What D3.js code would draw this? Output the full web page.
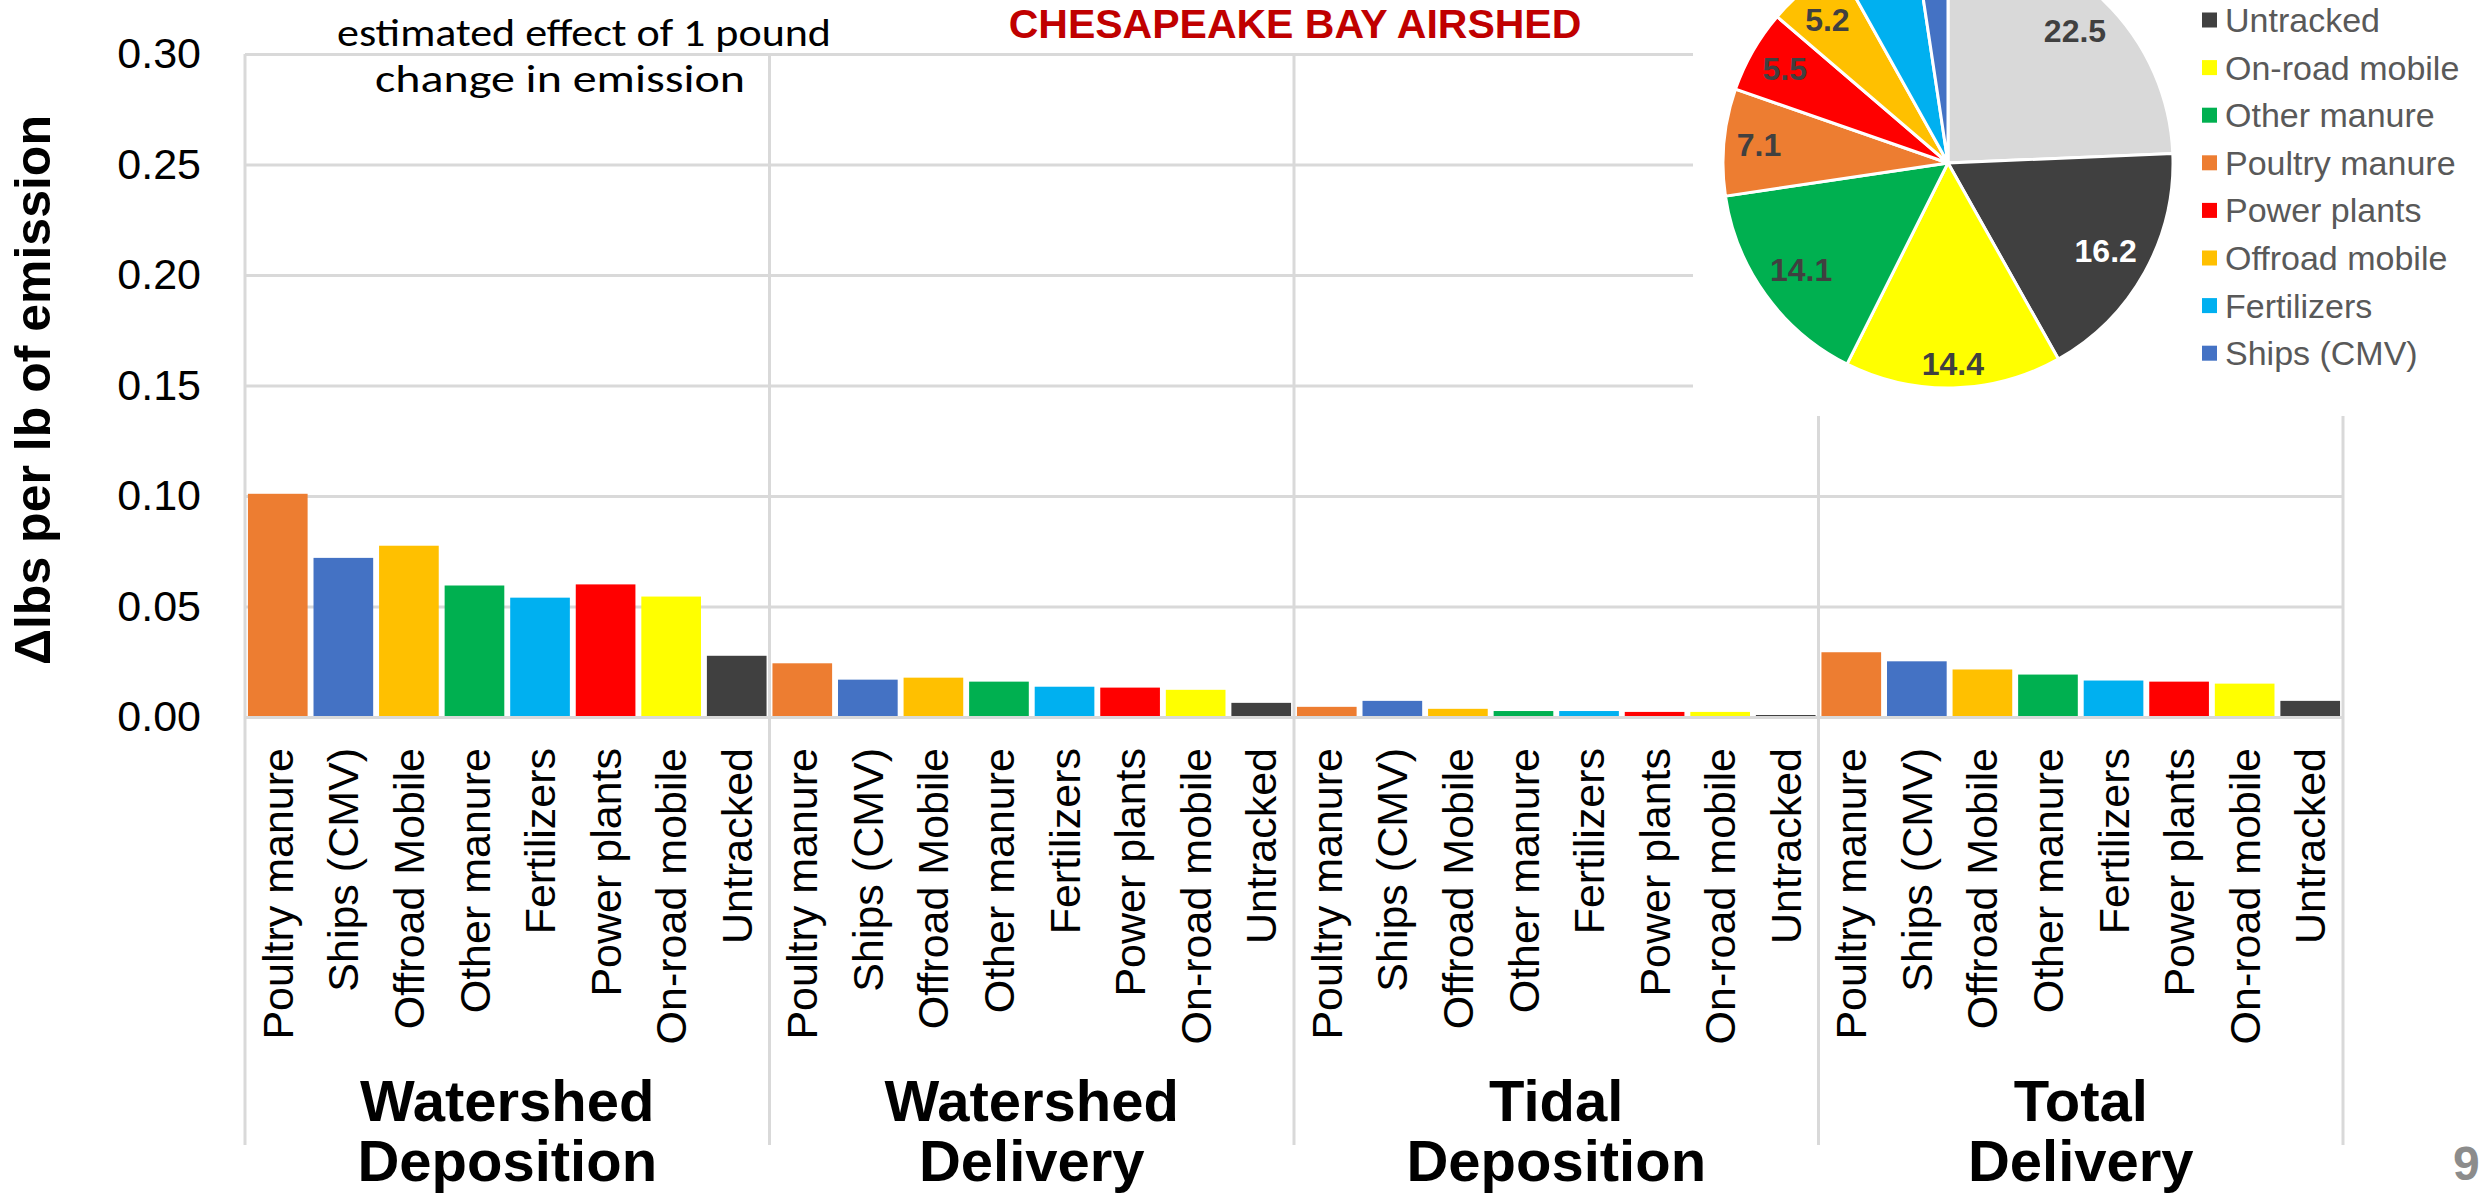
<!DOCTYPE html>
<html>
<head>
<meta charset="utf-8">
<script src="https://cdn.jsdelivr.net/npm/d3@7"></script>
<style>
  html, body { margin: 0; padding: 0; background: #fff; }
  svg { display: block; }
</style>
</head>
<body>
<svg id="chart" width="2481" height="1194"></svg>
<script>
// bar chart data: effect of 1 lb change in emission, by source
const sources = ["Poultry manure", "Ships (CMV)", "Offroad Mobile", "Other manure",
  "Fertilizers", "Power plants", "On-road mobile", "Untracked"];
const sourceColors = ["#ED7D31", "#4472C4", "#FFC000", "#00B050",
  "#00B0F0", "#FF0000", "#FFFF00", "#404040"];
const groupNames = [["Watershed", "Deposition"], ["Watershed", "Delivery"],
  ["Tidal", "Deposition"], ["Total", "Delivery"]];
const watershedDeposition = [0.101, 0.072, 0.0775, 0.0595, 0.054, 0.060, 0.0545, 0.0277];
const watershedDelivery = [0.0243, 0.0169, 0.0178, 0.016, 0.0137, 0.0133, 0.0123, 0.0064];
const tidalDeposition = [0.0046, 0.0073, 0.0037, 0.0027, 0.0027, 0.0023, 0.0023, 0.0009];
const totalDelivery = [0.0293, 0.0252, 0.0215, 0.0192, 0.0165, 0.016, 0.0151, 0.0073];
const yTicks = [0, 0.05, 0.10, 0.15, 0.20, 0.25, 0.30];

// pie data (Chesapeake Bay airshed shares)
const pieNames = ["Other", "Untracked", "On-road mobile", "Other manure", "Poultry manure",
  "Power plants", "Offroad mobile", "Fertilizers", "Ships (CMV)"];
const pieValues = [22.5, 16.2, 14.4, 14.1, 7.1, 5.5, 5.2, 5.3, 2.2];
const pieLabels = ["22.5", "16.2", "14.4", "14.1", "7.1", "5.5", "5.2", "", ""];
const pieColors = ["#D9D9D9", "#404040", "#FFFF00", "#00B050", "#ED7D31",
  "#FF0000", "#FFC000", "#00B0F0", "#4472C4"];

const svg = d3.select("#chart");
const grid = "#D9D9D9";
const arial = "'Liberation Sans', Arial, sans-serif";

const plotLeft = 245, plotRight = 2343, plotBottom = 717, plotTop = 54;

const groups = [watershedDeposition, watershedDelivery, tidalDeposition, totalDelivery];
const bars = [];
groups.forEach((vals, g) => {
  vals.forEach((v, i) => bars.push({ key: g * 8 + i, group: g, source: i, value: v }));
});

const x = d3.scaleBand()
  .domain(bars.map(d => d.key))
  .range([plotLeft, plotRight])
  .paddingInner(0.09)
  .paddingOuter(0.045);

const y = d3.scaleLinear().domain([0, 0.30]).range([plotBottom, plotTop]);

// y axis + gridlines
const yAxis = svg.append("g")
  .attr("transform", `translate(${plotLeft},0)`)
  .call(d3.axisLeft(y).tickValues(yTicks).tickFormat(d3.format(".2f"))
    .tickSize(-(plotRight - plotLeft)).tickPadding(44));
yAxis.select(".domain").remove();
yAxis.selectAll(".tick line").attr("stroke", grid).attr("stroke-width", 3);
yAxis.selectAll(".tick text")
  .attr("font-family", arial).attr("font-size", 43).attr("fill", "#000");

// group separators (run down through the category labels)
const groupBounds = d3.range(5).map(k => plotLeft + k * 8 * x.step());
svg.append("g").selectAll("line")
  .data(groupBounds)
  .join("line")
  .attr("x1", d => d).attr("x2", d => d)
  .attr("y1", plotTop).attr("y2", 1145)
  .attr("stroke", grid).attr("stroke-width", 3);

// bars
svg.append("g").selectAll("rect")
  .data(bars)
  .join("rect")
  .attr("x", d => x(d.key))
  .attr("width", x.bandwidth())
  .attr("y", d => y(d.value))
  .attr("height", d => y(0) - y(d.value))
  .attr("fill", d => sourceColors[d.source]);

// x axis with rotated source names
const xAxis = svg.append("g")
  .attr("transform", `translate(0,${plotBottom})`)
  .call(d3.axisBottom(x).tickSize(0).tickFormat(k => sources[k % 8]));
xAxis.select(".domain").attr("stroke", grid).attr("stroke-width", 3);
xAxis.selectAll(".tick text")
  .attr("font-family", arial).attr("font-size", 43).attr("fill", "#000")
  .attr("transform", "rotate(-90)")
  .attr("text-anchor", "end")
  .attr("x", -31).attr("y", 0).attr("dy", "0.35em");

// group labels
const gl = svg.append("g").selectAll("text")
  .data(groupNames)
  .join("text")
  .attr("x", (d, i) => groupBounds[i] + 4 * x.step())
  .attr("y", 1121)
  .attr("text-anchor", "middle")
  .attr("font-family", arial).attr("font-weight", "bold").attr("font-size", 58)
  .attr("fill", "#000");
gl.selectAll("tspan")
  .data(d => d)
  .join("tspan")
  .attr("x", function () { return this.parentNode.getAttribute("x"); })
  .attr("dy", (d, i) => i === 0 ? 0 : 60)
  .text(d => d);

// y axis title
svg.append("text")
  .attr("transform", "translate(50,390) rotate(-90)")
  .attr("text-anchor", "middle")
  .attr("font-family", arial).attr("font-weight", "bold").attr("font-size", 50)
  .attr("fill", "#000")
  .text("Δlbs per lb of emission");

// note
const note = svg.append("g")
  .attr("font-family", "Carlito, Lato, sans-serif").attr("font-size", 38)
  .attr("fill", "#000").attr("text-anchor", "middle");
note.append("text").attr("x", 584).attr("y", 46)
  .attr("textLength", 494).attr("lengthAdjust", "spacingAndGlyphs")
  .text("estimated effect of 1 pound");
note.append("text").attr("x", 560).attr("y", 92)
  .attr("textLength", 370).attr("lengthAdjust", "spacingAndGlyphs")
  .text("change in emission");

// title
svg.append("text")
  .attr("x", 1295).attr("y", 38)
  .attr("text-anchor", "middle")
  .attr("font-family", arial).attr("font-weight", "bold").attr("font-size", 41)
  .attr("fill", "#C00000")
  .text("CHESAPEAKE BAY AIRSHED");

// pie panel sits on top of the bar chart
svg.append("rect")
  .attr("x", 1693).attr("y", 0).attr("width", 2481 - 1693).attr("height", 416)
  .attr("fill", "#fff");

const cx = 1948, cy = 163, r = 225;
const pieGen = d3.pie().sort(null).value(d => d);
const arcs = pieGen(pieValues);
const arcGen = d3.arc().innerRadius(0).outerRadius(r);

const pg = svg.append("g").attr("transform", `translate(${cx},${cy})`);
pg.selectAll("path")
  .data(arcs)
  .join("path")
  .attr("d", arcGen)
  .attr("fill", (d, i) => pieColors[i])
  .attr("stroke", "#fff").attr("stroke-width", 3);

// labels at the inside end of each slice (kept inside the slide top)
const pieText = pg.selectAll("text")
  .data(arcs)
  .join("text")
  .attr("text-anchor", "middle").attr("dy", "0.35em")
  .attr("font-family", arial).attr("font-weight", "bold").attr("font-size", 32)
  .attr("fill", (d, i) => i === 1 ? "#fff" : "#404040")
  .text((d, i) => pieLabels[i]);
pieText.attr("transform", function (d) {
  const a = (d.startAngle + d.endAngle) / 2;
  const ux = Math.sin(a), uy = -Math.cos(a);
  const b = this.getBBox();
  const extent = Math.abs(ux) * b.width / 2 + Math.abs(uy) * 11;
  const rr = r - 12 - extent;
  const ly = Math.max(uy * rr, 20 - cy);
  return `translate(${ux * rr},${ly})`;
});

// legend (first entry falls above the slide crop)
const legendItems = pieNames.map((n, i) => ({ name: n, color: pieColors[i], i })).slice(1);
const lg = svg.append("g").selectAll("g")
  .data(legendItems)
  .join("g")
  .attr("transform", (d, k) => `translate(2202,${20 + k * 47.6})`);
lg.append("rect")
  .attr("x", 0).attr("y", -7.5).attr("width", 15).attr("height", 15)
  .attr("fill", d => d.color);
lg.append("text")
  .attr("x", 23).attr("dy", "0.35em")
  .attr("font-family", arial).attr("font-size", 34).attr("fill", "#595959")
  .text(d => d.name);

// slide number
svg.append("text")
  .attr("x", 2453).attr("y", 1180)
  .attr("font-family", arial).attr("font-weight", "bold").attr("font-size", 48)
  .attr("fill", "#8C8C8C")
  .text("9");
</script>
</body>
</html>
